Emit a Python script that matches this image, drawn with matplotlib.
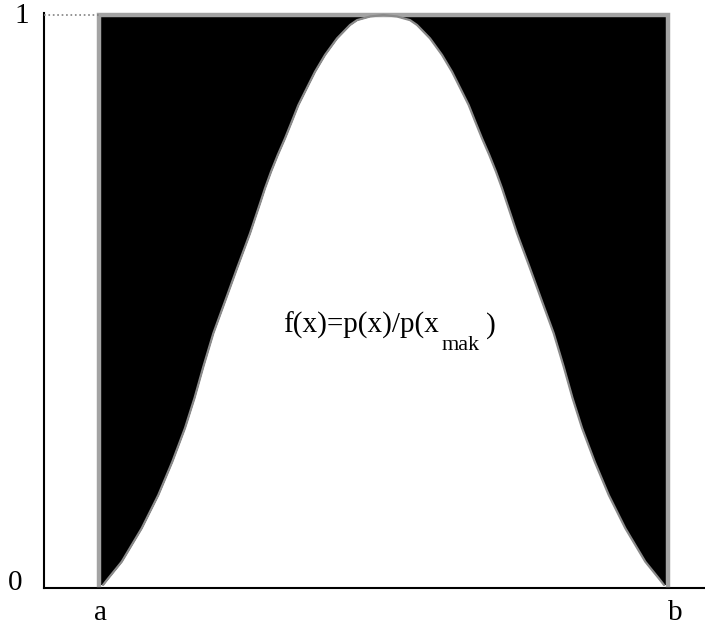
import matplotlib
matplotlib.use("Agg")
import matplotlib.pyplot as plt

plt.rcParams['font.family'] = ['Liberation Serif', 'DejaVu Serif']

# interval [a, b] mapped to 0..10, f(x) normalised so its maximum is 1
a_pos, b_pos = 0.0, 10.0
curve_x = [0.070, 0.163, 0.399, 0.750, 1.042, 1.288, 1.511, 1.678, 1.833,
           2.009, 2.223, 2.434, 2.654, 2.838, 2.917, 3.023, 3.141, 3.269,
           3.387, 3.503, 3.650, 3.796, 3.972, 4.183, 4.411, 4.534, 4.763,
           5.000,
           5.237, 5.466, 5.589, 5.817, 6.028, 6.204, 6.350, 6.497, 6.613,
           6.731, 6.859, 6.977, 7.083, 7.162, 7.346, 7.566, 7.777, 7.991,
           8.167, 8.322, 8.489, 8.712, 8.958, 9.250, 9.601, 9.837, 9.930]
curve_y = [0.0, 0.0118, 0.0409, 0.0995, 0.1579, 0.2163, 0.2754, 0.328, 0.383,
           0.4416, 0.500, 0.558, 0.617, 0.672, 0.696, 0.7251, 0.7544, 0.7837,
           0.8128, 0.842, 0.8714, 0.9005, 0.930, 0.959, 0.9825, 0.991, 0.9974,
           1.0,
           0.9974, 0.991, 0.9825, 0.959, 0.930, 0.9005, 0.8714, 0.842, 0.8128,
           0.7837, 0.7544, 0.7251, 0.696, 0.672, 0.617, 0.558, 0.500, 0.4416,
           0.383, 0.328, 0.2754, 0.2163, 0.1579, 0.0995, 0.0409, 0.0118, 0.0]
y_labels = ['0', '1']
x_labels = ['a', 'b']

fig = plt.figure(figsize=(7.05, 6.30), dpi=100)
ax = fig.add_axes([44 / 705, 42 / 630, 661 / 705, 575 / 630])
ax.set_xlim(-0.967, 10.65)
ax.set_ylim(-3 / 570, 1 + 2 / 570)

# black box over [a, b] x [0, 1], white area under f(x)
ax.fill_between([a_pos, b_pos], [1.0, 1.0], 0, color='black', lw=0, zorder=1)
ax.fill_between(curve_x, curve_y, 0, color='white', lw=0, zorder=2)
# grey frame: left, top and right sides only
ax.plot([a_pos, a_pos, b_pos, b_pos], [0.0, 1.0, 1.0, 0.0], color='#a3a3a3',
        lw=3.2, zorder=3, clip_on=False, solid_joinstyle='miter')
ax.plot(curve_x, curve_y, color='#8a8a8a', lw=1.6, zorder=4,
        solid_joinstyle='round', solid_capstyle='round')

# dotted guide at level 1
ax.plot([-0.967, a_pos], [1.0, 1.0], color='#808080', lw=1.2, ls=':',
        zorder=3, clip_on=False)

for side in ['top', 'right']:
    ax.spines[side].set_visible(False)
for side in ['left', 'bottom']:
    ax.spines[side].set_linewidth(1.5)
    ax.spines[side].set_color('black')
ax.set_xticks([])
ax.set_yticks([])

fs = 21
fig.text(22 / 705, 1 - 16 / 630, y_labels[1], fontsize=fs, ha='center', va='center')
fig.text(15 / 705, 1 - 583 / 630, y_labels[0], fontsize=fs, ha='center', va='center')
fig.text(100 / 705, 1 - 620 / 630, x_labels[0], fontsize=fs, ha='center', va='baseline')
fig.text(675 / 705, 1 - 620 / 630, x_labels[1], fontsize=fs, ha='center', va='baseline')

# formula label with subscript
ax.text(3.234, 0.442, 'f(x)=p(x)/p(x', fontsize=fs, ha='left', va='baseline', zorder=5)
ax.text(6.028, 0.4123, 'mak', fontsize=16, ha='left', va='baseline', zorder=5)
ax.text(6.801, 0.442, ')', fontsize=fs, ha='left', va='baseline', zorder=5)

fig.savefig('out.png', dpi=100, facecolor='white')
